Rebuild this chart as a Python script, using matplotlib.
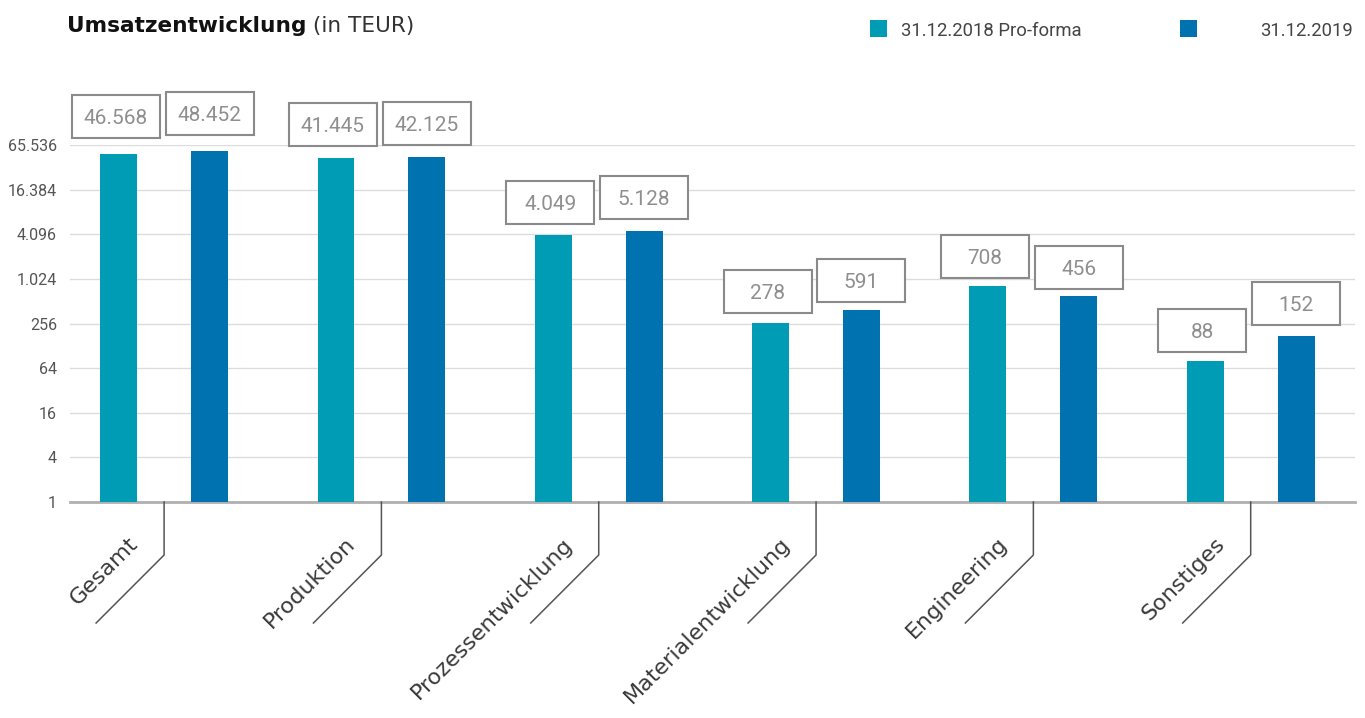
import matplotlib
matplotlib.use('Agg')
import matplotlib.pyplot as plt
from matplotlib.patches import Rectangle
from matplotlib.lines import Line2D
from matplotlib.text import Text
import matplotlib.transforms as mtransforms
import numpy as np

categories = ['Gesamt', 'Produktion', 'Prozessentwicklung', 'Materialentwicklung', 'Engineering', 'Sonstiges']
series_names = ['31.12.2018 Pro-forma', '31.12.2019']
# values printed in the boxes
labels_2018 = [46568, 41445, 4049, 278, 708, 88]
labels_2019 = [48452, 42125, 5128, 591, 456, 152]
# bar heights as drawn in the picture (log2 axis)
bars_2018 = [50000, 44000, 4000, 258, 830, 80]
bars_2019 = [55000, 45800, 4540, 387, 608, 172]
ytick_values = [1, 4, 16, 64, 256, 1024, 4096, 16384, 65536]
colors = ['#009BB4', '#0072AF']
title_bold = 'Umsatzentwicklung'
title_rest = ' (in TEUR)'

# layout: gap (px) between bar top and its value box
gap_2018 = [16, 12, 11, 10, 8, 9]
gap_2019 = [16, 12, 12, 8, 7, 11]


def de_fmt(v):
    return f'{v:,}'.replace(',', '.')


plt.rcParams['font.family'] = ['Roboto', 'DejaVu Sans']
W, H = 1365, 718
fig = plt.figure(figsize=(W / 100, H / 100), dpi=100)
ax = fig.add_axes([70 / W, (H - 502) / H, (1355 - 70) / W, (502 - 145) / H])
ax.set_yscale('log', base=2)
x = np.arange(len(categories))
off = 0.209
bw = 0.17
ax.set_xlim(-0.433, 5.48)
ax.set_ylim(1, 65536)

ident = mtransforms.IdentityTransform()
for bars, labs, gaps, sign, c, dx in [(bars_2018, labels_2018, gap_2018, -1, colors[0], -3),
                                     (bars_2019, labels_2019, gap_2019, 1, colors[1], 0)]:
    ax.bar(x + sign * off, bars, width=bw, color=c, zorder=3)
    for xi, v, lab, g in zip(x + sign * off, bars, labs, gaps):
        t = mtransforms.ScaledTranslation(xi, v, ax.transData)
        rect = Rectangle((dx - 44, g), 88, 43, transform=t, facecolor='white',
                         edgecolor='#8a8a8a', lw=1.5, zorder=5)
        fig.add_artist(rect)
        txt = Text(dx, g + 14, de_fmt(lab), transform=t, ha='center', va='baseline',
                   fontsize=15, color='#8f8f8f', zorder=6,
                   fontfamily=['Roboto', 'DejaVu Sans'])
        fig.add_artist(txt)

ax.set_yticks(ytick_values)
ax.set_yticklabels([de_fmt(v) for v in ytick_values])
ax.yaxis.set_minor_locator(matplotlib.ticker.NullLocator())
ax.tick_params(axis='y', length=0, pad=9.4, labelsize=11.5, labelcolor='#555555')
ax.set_xticks([])
ax.yaxis.grid(True, color='#dcdcdc', lw=1, zorder=0)
ax.set_axisbelow(True)
for s in ['top', 'right', 'left']:
    ax.spines[s].set_visible(False)
ax.spines['bottom'].set_color('#b0b0b0')
ax.spines['bottom'].set_linewidth(2)

for xi, cat in zip(x, categories):
    t = mtransforms.ScaledTranslation(xi, 1, ax.transData)
    ln = Line2D([0, 0, -68], [0, -53, -121], transform=t, color='#555555', lw=1.1)
    fig.add_artist(ln)
    txt = Text(-22, -46, cat, transform=t, rotation=45, rotation_mode='anchor',
               ha='right', va='bottom', fontsize=16, color='#3a3a3a',
               fontfamily=['DejaVu Sans'])
    fig.add_artist(txt)

# Title
tb = fig.text(67 / W, (H - 31.7) / H, title_bold, fontsize=15.6, fontweight='bold',
              va='baseline', color='#111111', fontfamily=['DejaVu Sans'])
fig.canvas.draw()
bb = tb.get_window_extent()
fig.text(bb.x1 / W, (H - 31.7) / H, title_rest, fontsize=15.6, va='baseline',
         color='#333333', fontfamily=['DejaVu Sans'])

# Legend
fig.add_artist(Rectangle((870, H - 37), 17, 17, transform=ident, facecolor=colors[0], edgecolor='none'))
fig.text(901 / W, (H - 36) / H, series_names[0], fontsize=13.3, va='baseline', ha='left', color='#444444')
fig.add_artist(Rectangle((1180, H - 37), 17, 17, transform=ident, facecolor=colors[1], edgecolor='none'))
fig.text(1353 / W, (H - 36) / H, series_names[1], fontsize=13.3, va='baseline', ha='right', color='#444444')

fig.savefig('out.png', dpi=100)
